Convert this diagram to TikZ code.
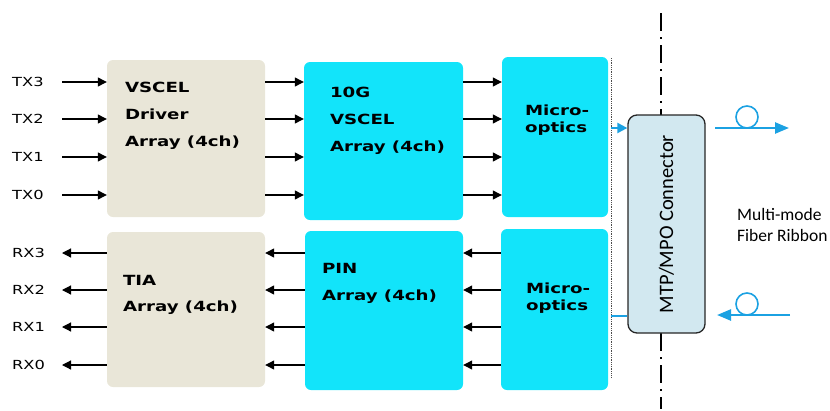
\documentclass[tikz,border=0pt]{standalone}
\usepackage{fontspec}
\usepackage{tikz}
\usetikzlibrary{positioning}
\usetikzlibrary{arrows.meta}
\newfontfamily\blockfont[FakeStretch=1.3]{DejaVu Sans}
\newfontfamily\calfont{Carlito}
\definecolor{chipcyan}{RGB}{18,228,250}
\definecolor{chipbeige}{RGB}{233,230,216}
\definecolor{connfill}{RGB}{210,232,240}
\definecolor{fiberblue}{RGB}{27,161,226}
\tikzset{
    boxbeige/.style = {rectangle, rounded corners=6pt, draw=none, fill=chipbeige, inner sep=0pt},
    boxcyan/.style = {rectangle, rounded corners=6pt, draw=none, fill=chipcyan, inner sep=0pt},
    boxconn/.style = {rectangle, rounded corners=9pt, line width=1.3pt, draw=black!85, fill=connfill, inner sep=0pt},
    boxtext/.style = {anchor=north west, inner sep=0pt, align=left, font=\blockfont\bfseries\fontsize{14}{27}\selectfont},
    siglabel/.style = {anchor=west, inner sep=0pt, font=\blockfont\fontsize{12.5}{14}\selectfont},
    fibloop/.style = {circle, line width=1.6pt, draw=fiberblue, minimum size=22pt, inner sep=0pt},
    edgesig/.style = {-{Triangle[length=9pt,width=9pt]}, line width=1.2pt, black},
    edgefib/.style = {-{Triangle[length=14pt,width=11pt]}, line width=2.4pt, fiberblue},
    edgefibs/.style = {-{Triangle[length=10pt,width=10pt]}, line width=2.2pt, fiberblue},
    edgefibn/.style = {-, line width=2.2pt, fiberblue},
    edgeaxis/.style = {-, line width=2pt, black, dash pattern=on 18pt off 6pt on 2pt off 6pt},
    edgedot/.style = {-, thick, black!70, densely dotted}
}
\begin{document}
\begin{tikzpicture}[x=1pt,y=-1pt]
% blocks
\node[boxbeige, minimum width=158pt, minimum height=157pt] at (186,138.5) (drv) {};
\node[boxbeige, minimum width=158pt, minimum height=155pt] at (186,309.5) (tia) {};
\node[boxcyan, minimum width=159pt, minimum height=158pt] at (383.5,141) (vcsel) {};
\node[boxcyan, minimum width=158pt, minimum height=159pt] at (384,310.5) (pin) {};
\node[boxcyan, minimum width=106pt, minimum height=160pt] at (555,137) (mot) {};
\node[boxcyan, minimum width=107pt, minimum height=161pt] at (554.5,309.5) (mor) {};
%
\node[boxtext] at ([xshift=18pt,yshift=-22pt]drv.north west) (drvtxt) {VSCEL\\Driver\\Array (4ch)};
\node[boxtext, font=\blockfont\bfseries\fontsize{14}{26}\selectfont] at ([xshift=16pt,yshift=-43pt]tia.north west) (tiatxt) {TIA\\Array (4ch)};
\node[boxtext] at ([xshift=26pt,yshift=-25pt]vcsel.north west) (vcseltxt) {10G\\VSCEL\\Array (4ch)};
\node[boxtext] at ([xshift=17pt,yshift=-32pt]pin.north west) (pintxt) {PIN\\Array (4ch)};
\node[boxtext, font=\blockfont\bfseries\fontsize{14}{17}\selectfont] at ([xshift=23pt,yshift=-48pt]mot.north west) (mottxt) {Micro-\\optics};
\node[boxtext, font=\blockfont\bfseries\fontsize{14}{17}\selectfont] at ([xshift=25pt,yshift=-54pt]mor.north west) (mortxt) {Micro-\\optics};
% transmit lanes
\foreach \i/\y in {3/82,2/119,1/157,0/195} {
  \node[siglabel] at (12,\y) (tx\i) {TX\i};
  \draw[edgesig] (tx\i.west) ++(50,0) -- (drv.west |- tx\i);
  \draw[edgesig] (drv.east |- tx\i) -- (vcsel.west |- tx\i);
  \draw[edgesig] (vcsel.east |- tx\i) -- (mot.west |- tx\i);
}
% receive lanes
\foreach \i/\y in {3/253,2/290,1/327,0/365} {
  \node[siglabel] at (12,\y) (rx\i) {RX\i};
  \draw[edgesig] (tia.west |- rx\i) -- ([xshift=50pt]rx\i.west);
  \draw[edgesig] (pin.west |- rx\i) -- (tia.east |- rx\i);
  \draw[edgesig] (mor.west |- rx\i) -- (pin.east |- rx\i);
}
% module edge and connector
\coordinate (dtop) at (611,58);
\coordinate (dbot) at (611,378);
\draw[edgedot] (dtop) -- (dbot);
\coordinate (axtop) at (661,13);
\coordinate (axbot) at (661,409);
\draw[edgeaxis] (axtop) -- (axbot);
\node[boxconn, minimum width=77pt, minimum height=218pt] at (666.5,224) (conn) {};
\node[rotate=90, inner sep=0pt, font=\calfont\fontsize{20.5}{22}\selectfont] at (conn.center) (conntxt) {MTP/MPO Connector};
%
\coordinate (txout) at (611,128);
\coordinate (rxin) at (611,316);
\draw[edgefibs] (txout) -- (conn.west |- txout);
\draw[edgefibn] (rxin) -- (conn.west |- rxin);
% fibers
\node[fibloop] at (747,117) (lpt) {};
\node[fibloop] at (747,304) (lpr) {};
\coordinate (ft1) at (715,128);
\coordinate (ft2) at (789,128);
\coordinate (fr1) at (790,315);
\coordinate (fr2) at (717,315);
\draw[edgefib] (ft1) -- (ft2);
\draw[edgefib] (fr1) -- (fr2);
\node[anchor=west, inner sep=0pt, align=left, font=\calfont\fontsize{17.5}{20.5}\selectfont] at (737,225) (ribbon) {Multi-mode\\Fiber Ribbon};

\path[use as bounding box] (0,0) rectangle (830,409);
\end{tikzpicture}
\end{document}
